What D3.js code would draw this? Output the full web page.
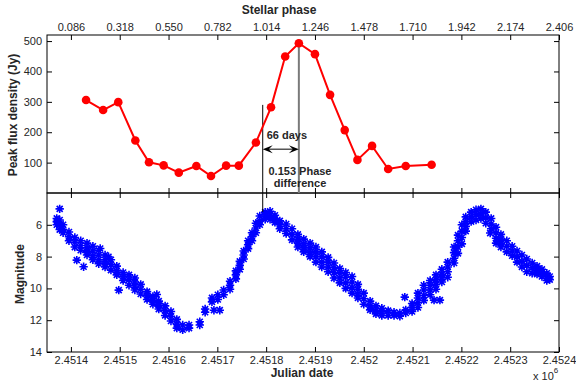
<!DOCTYPE html>
<html>
<head>
<meta charset="utf-8">
<script src="https://cdn.jsdelivr.net/npm/d3@7"></script>
<style>
  body { margin: 0; background: #fff; }
  svg text { font-family: "Liberation Sans", Arial, sans-serif; fill: #262626; }
</style>
</head>
<body>
<svg id="chart" width="576" height="387"></svg>
<script>
// peak flux density (top panel)
const fluxDates = [2451431, 2451466, 2451497, 2451532, 2451560, 2451590, 2451621, 2451657, 2451687, 2451718, 2451744,
  2451779, 2451810, 2451839, 2451867, 2451900, 2451931, 2451961, 2451987, 2452017, 2452050, 2452086, 2452139];
const fluxValues = [306, 273, 299, 173, 101, 91, 67, 89, 56, 90, 90, 166, 282, 449, 493, 457, 323, 207, 109, 155, 79, 89, 93];

// optical light curve (bottom panel): dates and the magnitudes seen at each date
const lcDates = [2451371, 2451377, 2451384, 2451396, 2451408, 2451412, 2451420, 2451426, 2451433, 2451445, 2451457, 2451460,
  2451470, 2451477, 2451482, 2451494, 2451498, 2451507, 2451519, 2451531, 2451543, 2451556, 2451568, 2451576, 2451580,
  2451593, 2451605, 2451617, 2451629, 2451642, 2451664, 2451675, 2451689, 2451693, 2451701, 2451705, 2451713, 2451726,
  2451738, 2451746, 2451754, 2451763, 2451771, 2451779, 2451787, 2451798, 2451808, 2451818, 2451828, 2451841, 2451853,
  2451865, 2451877, 2451890, 2451902, 2451914, 2451927, 2451939, 2451951, 2451963, 2451976, 2451988, 2452000, 2452013,
  2452025, 2452037, 2452050, 2452062, 2452074, 2452084, 2452086, 2452099, 2452111, 2452123, 2452136, 2452144, 2452148,
  2452156, 2452160, 2452172, 2452185, 2452193, 2452201, 2452209, 2452220, 2452230, 2452240, 2452250, 2452259, 2452261,
  2452271, 2452281, 2452293, 2452304, 2452314, 2452324, 2452334, 2452345, 2452355, 2452365, 2452375, 2452381];
const lcMags = [[5.6, 5.8, 6.0], [5.0, 5.7, 6.0, 6.3], [6.0, 6.3, 6.5], [6.45, 6.75, 7.0], [6.8, 7.1, 7.4], [8.22],
  [7.0, 7.3, 7.6], [8.64], [7.15, 7.45, 7.7, 7.9], [7.35, 7.65, 7.95, 8.2], [7.6, 7.9, 8.2, 8.45], [7.49],
  [7.9, 8.2, 8.45, 8.65], [8.01], [8.2, 8.5, 8.85], [8.6, 8.9, 9.15], [10.11], [9.0, 9.25, 9.5], [9.15, 9.45, 9.8],
  [9.35, 9.6, 9.85, 10.1], [9.75, 10.05, 10.35], [10.2, 10.45, 10.7], [10.5, 10.75, 11.0], [10.38], [10.8, 11.05, 11.3],
  [11.1, 11.4, 11.7], [11.45, 11.75, 12.05], [11.95, 12.25, 12.5], [12.3, 12.6], [12.3, 12.5], [12.1, 12.3], [11.3, 11.5],
  [10.6, 10.85], [11.37], [10.4, 10.7], [11.37], [10.1, 10.4], [9.55, 9.8, 10.05],
  [8.9, 9.15, 9.4], [8.3, 8.55, 8.8], [7.65, 7.9, 8.15], [7.0, 7.25, 7.5], [6.5, 6.75, 7.0], [5.9, 6.2, 6.5],
  [5.45, 5.75, 6.0], [5.2, 5.45, 5.65], [5.15, 5.4, 5.65], [5.4, 5.6, 5.85], [5.75, 6.0, 6.25], [5.95, 6.25, 6.55],
  [6.25, 6.6, 6.95], [6.6, 6.9, 7.15, 7.4], [6.9, 7.2, 7.45, 7.7], [7.15, 7.45, 7.75, 8.0], [7.4, 7.7, 8.0, 8.35],
  [7.7, 8.0, 8.35, 8.65], [8.05, 8.35, 8.65, 8.95], [8.4, 8.7, 9.0, 9.35], [8.75, 9.05, 9.35, 9.65],
  [9.0, 9.3, 9.65, 10.0], [9.25, 9.6, 9.95, 10.3], [9.75, 10.05, 10.35, 10.6], [10.3, 10.65, 11.0], [10.8, 11.1, 11.35],
  [11.1, 11.4, 11.6], [11.25, 11.45, 11.7], [11.4, 11.7], [11.5, 11.7], [11.55, 11.75], [10.55], [11.35, 11.55],
  [10.95, 11.2, 11.45], [10.3, 10.6, 10.9, 11.2], [9.8, 10.1, 10.45, 10.75], [9.5, 9.8, 10.1, 10.4], [10.74],
  [9.15, 9.45, 9.75, 10.05], [10.74], [8.8, 9.1, 9.35, 9.6], [8.35, 8.65, 8.95, 9.3], [7.4, 7.75, 8.1, 8.4],
  [6.65, 7.0, 7.4, 7.8], [6.0, 6.4, 6.8, 7.2], [5.5, 5.8, 6.1, 6.4], [5.2, 5.5, 5.8], [5.05, 5.35, 5.7], [5.0, 5.3, 5.6],
  [5.2, 5.55, 5.9], [6.52], [5.6, 5.95, 6.25], [6.15, 6.5, 6.85, 7.15], [6.6, 6.9, 7.15, 7.4], [7.0, 7.35, 7.7],
  [7.35, 7.65, 7.95], [7.65, 8.0, 8.35], [7.9, 8.3, 8.65], [8.15, 8.55, 8.95], [8.4, 8.7, 9.05], [8.6, 8.85, 9.1],
  [8.8, 9.0, 9.25], [9.05, 9.25, 9.5], [9.25, 9.45]];

const jdTicks = [2451400, 2451500, 2451600, 2451700, 2451800, 2451900, 2452000, 2452100, 2452200, 2452300, 2452400];
const jdTickLabels = ['2.4514', '2.4515', '2.4516', '2.4517', '2.4518', '2.4519', '2.452', '2.4521', '2.4522', '2.4523', '2.4524'];
const phaseTickLabels = ['0.086', '0.318', '0.550', '0.782', '1.014', '1.246', '1.478', '1.710', '1.942', '2.174', '2.406'];
const fluxTicks = [100, 200, 300, 400, 500];
const magTicks = [6, 8, 10, 12, 14];

// annotation: start of the lag, radio peak
const lagStartJD = 2451793;
const lagEndJD = 2451867;
const lagTexts = ['66 days', '0.153 Phase', 'difference'];

const L = 47, R = 559, T = 35, M = 193, B = 352;
const svg = d3.select('#chart');

const x = d3.scaleLinear().domain([2451351, 2452400]).range([L, R]);
const phase = d3.scaleLinear().domain([0, jdTicks.length - 1]).range([x(jdTicks[0]), x(jdTicks[jdTicks.length - 1])]);
const yFlux = d3.scaleLinear().domain([0, 520]).range([M, T]);
const yMag = d3.scaleLinear().domain([4, 14]).range([M, B]);

function styleAxis(g) {
  g.select('.domain').remove();
  g.selectAll('line').attr('stroke', '#000');
  g.selectAll('text').attr('font-size', 11).attr('fill', '#262626').style('font-family', '"Liberation Sans", Arial, sans-serif');
}

// top panel axes
svg.append('g').attr('transform', `translate(0,${T})`)
  .call(d3.axisTop(phase).tickValues(d3.range(phaseTickLabels.length)).tickFormat((d, i) => phaseTickLabels[i]).tickSize(-5).tickPadding(4))
  .call(styleAxis);
svg.append('g').attr('transform', `translate(0,${M})`)
  .call(d3.axisBottom(x).tickValues(jdTicks).tickFormat('').tickSize(-5)).call(styleAxis);
svg.append('g').attr('transform', `translate(${L},0)`)
  .call(d3.axisLeft(yFlux).tickValues(fluxTicks).tickSize(-5).tickPadding(5)).call(styleAxis);
svg.append('g').attr('transform', `translate(${R},0)`)
  .call(d3.axisRight(yFlux).tickValues(fluxTicks).tickFormat('').tickSize(-5)).call(styleAxis);

// bottom panel axes
svg.append('g').attr('transform', `translate(0,${M})`)
  .call(d3.axisTop(x).tickValues(jdTicks).tickFormat('').tickSize(-5)).call(styleAxis);
svg.append('g').attr('transform', `translate(0,${B})`)
  .call(d3.axisBottom(x).tickValues(jdTicks).tickFormat((d, i) => jdTickLabels[i]).tickSize(-5).tickPadding(4)).call(styleAxis);
svg.append('g').attr('transform', `translate(${L},0)`)
  .call(d3.axisLeft(yMag).tickValues(magTicks).tickSize(-5).tickPadding(5)).call(styleAxis);
svg.append('g').attr('transform', `translate(${R},0)`)
  .call(d3.axisRight(yMag).tickValues(magTicks).tickFormat('').tickSize(-5)).call(styleAxis);

// frames
svg.append('rect').attr('x', L).attr('y', T).attr('width', R - L).attr('height', M - T)
  .attr('fill', 'none').attr('stroke', '#000');
svg.append('rect').attr('x', L).attr('y', M).attr('width', R - L).attr('height', B - M)
  .attr('fill', 'none').attr('stroke', '#000');

// light curve asterisks
const lcPoints = lcDates.flatMap((d, i) => lcMags[i].map(m => [d, m]));
const star = 'M-4.2,0H4.2M0,-4.2V4.2M-3,-3L3,3M-3,3L3,-3';
svg.append('g').selectAll('path').data(lcPoints).join('path')
  .attr('transform', d => `translate(${x(d[0])},${yMag(d[1])})`)
  .attr('d', star).attr('stroke', '#0000ff').attr('stroke-width', 1.6).attr('fill', 'none');

// annotation lines
svg.append('line').attr('x1', x(lagEndJD)).attr('x2', x(lagEndJD))
  .attr('y1', yFlux(493)).attr('y2', yFlux(0)).attr('stroke', '#7a7a7a').attr('stroke-width', 2);
svg.append('line').attr('x1', x(lagStartJD)).attr('x2', x(lagStartJD))
  .attr('y1', yFlux(290)).attr('y2', yMag(5.2)).attr('stroke', '#000').attr('stroke-width', 1);

// flux line + markers
const fluxData = fluxDates.map((d, i) => [d, fluxValues[i]]);
svg.append('path').datum(fluxData)
  .attr('d', d3.line().x(d => x(d[0])).y(d => yFlux(d[1])))
  .attr('fill', 'none').attr('stroke', '#ff0000').attr('stroke-width', 2);
svg.append('g').selectAll('circle').data(fluxData).join('circle')
  .attr('cx', d => x(d[0])).attr('cy', d => yFlux(d[1])).attr('r', 4.3).attr('fill', '#ff0000');

// double arrow
const ay = yFlux(144), ax1 = x(lagStartJD), ax2 = x(lagEndJD);
svg.append('line').attr('x1', ax1 + 5).attr('x2', ax2 - 5).attr('y1', ay).attr('y2', ay)
  .attr('stroke', '#555').attr('stroke-width', 1.5);
svg.append('path').attr('d', `M${ax1},${ay}L${ax1 + 10},${ay - 4}L${ax1 + 6},${ay}L${ax1 + 10},${ay + 4}Z`).attr('fill', '#000');
svg.append('path').attr('d', `M${ax2},${ay}L${ax2 - 10},${ay - 4}L${ax2 - 6},${ay}L${ax2 - 10},${ay + 4}Z`).attr('fill', '#000');

svg.append('text').attr('x', ax1 + 4).attr('y', 139).attr('font-size', 11).attr('font-weight', 'bold').text(lagTexts[0]);
svg.append('text').attr('x', 300).attr('y', 175).attr('text-anchor', 'middle').attr('font-size', 11).attr('font-weight', 'bold').text(lagTexts[1]);
svg.append('text').attr('x', 300).attr('y', 187).attr('text-anchor', 'middle').attr('font-size', 11).attr('font-weight', 'bold').text(lagTexts[2]);

// axis titles
svg.append('text').attr('x', 279).attr('y', 14).attr('text-anchor', 'middle').attr('font-size', 12).attr('font-weight', 'bold').text('Stellar phase');
svg.append('text').attr('x', 302).attr('y', 377).attr('text-anchor', 'middle').attr('font-size', 12).attr('font-weight', 'bold').text('Julian date');
svg.append('text').attr('transform', 'translate(17,115) rotate(-90)').attr('text-anchor', 'middle').attr('font-size', 12).attr('font-weight', 'bold').text('Peak flux density (Jy)');
svg.append('text').attr('transform', 'translate(24,274) rotate(-90)').attr('text-anchor', 'middle').attr('font-size', 12).attr('font-weight', 'bold').text('Magnitude');
const expo = svg.append('text').attr('x', 533).attr('y', 380).attr('font-size', 11);
expo.append('tspan').text('x 10');
expo.append('tspan').attr('dy', -7).attr('font-size', 8).text('6');
</script>
</body>
</html>
